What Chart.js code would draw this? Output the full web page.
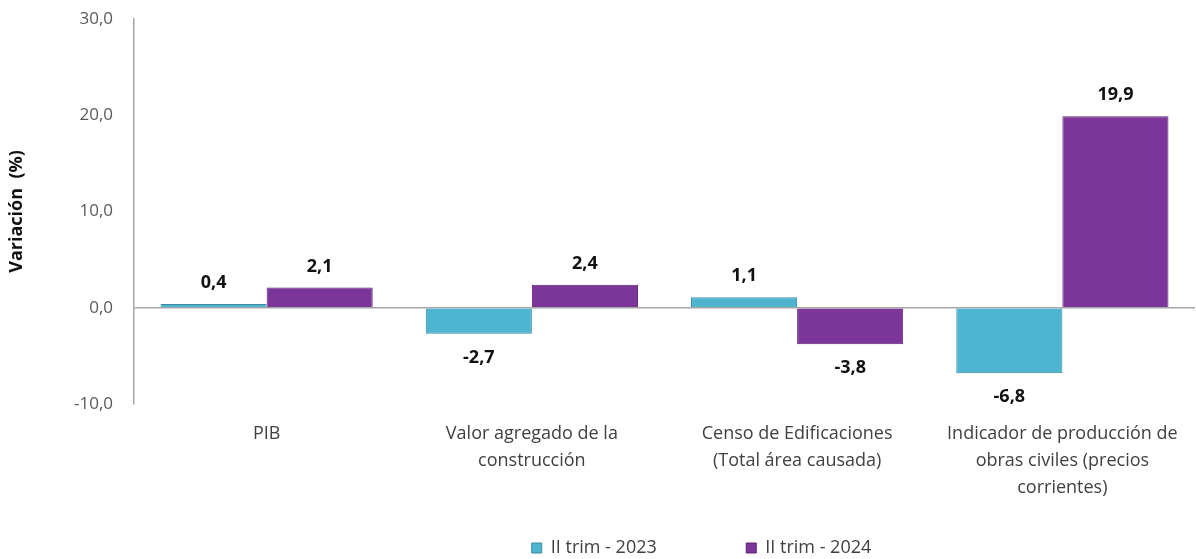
<!DOCTYPE html>
<html>
<head>
<meta charset="utf-8">
<script src="https://cdn.jsdelivr.net/npm/chart.js@4/dist/chart.umd.min.js"></script>
<style>
  html, body { margin: 0; padding: 0; background: #ffffff; }
  #wrap { width: 1196px; height: 559px; }
</style>
</head>
<body>
<div id="wrap"><canvas id="myChart" width="1196" height="559"></canvas></div>
<script>
// categories (multi-line labels) and the two series
const categories = [
  ['PIB'],
  ['Valor agregado de la', 'construcción'],
  ['Censo de Edificaciones', '(Total área causada)'],
  ['Indicador de producción de', 'obras civiles (precios', 'corrientes)']
];
const serie2023 = [0.4, -2.7, 1.1, -6.8];
const serie2024 = [2.1, 2.4, -3.8, 19.9];
const seriesNames = ['II trim - 2023', 'II trim - 2024'];
const yTicks = [-10, 0, 10, 20, 30];

const FONT = '"Open Sans", "Noto Sans", sans-serif';

function fmt(v) {
  return v.toFixed(1).replace('.', ',');
}

// value labels above / below each bar
const valueLabels = {
  id: 'valueLabels',
  afterDatasetsDraw(chart) {
    const ctx = chart.ctx;
    ctx.save();
    ctx.font = 'bold 18px ' + FONT;
    ctx.fillStyle = '#111111';
    ctx.textAlign = 'center';
    ctx.textBaseline = 'middle';
    chart.data.datasets.forEach((ds, di) => {
      chart.getDatasetMeta(di).data.forEach((bar, i) => {
        const v = ds.data[i];
        const y = v >= 0 ? bar.y - 21 : bar.y + 24;
        ctx.fillText(fmt(v), bar.x, y);
      });
    });
    ctx.restore();
  }
};

// move the legend to where it sits in the original
const legendShift = {
  id: 'legendShift',
  afterLayout(chart) {
    const lg = chart.legend;
    lg.left += 104;
    lg.right += 104;
  }
};

const options = {
  type: 'bar',
  data: {
    labels: categories,
    datasets: [
      {
        label: seriesNames[0] + '                 ',
        data: serie2023,
        backgroundColor: '#4db5cf',
        borderColor: '#3a8aa0',
        borderWidth: 1
      },
      {
        label: seriesNames[1],
        data: serie2024,
        backgroundColor: '#7c3699',
        borderColor: '#5a2272',
        borderWidth: 1
      }
    ]
  },
  options: {
    responsive: false,
    animation: false,
    layout: { padding: { top: 19, left: 0, right: 1, bottom: -8 } },
    datasets: {
      bar: { categoryPercentage: 0.8, barPercentage: 1.0 }
    },
    scales: {
      x: {
        grid: { display: false, drawTicks: false },
        border: { display: false },
        ticks: {
          color: '#404040',
          font: { family: FONT, size: 18, lineHeight: 1.5 },
          padding: 16,
          maxRotation: 0,
          autoSkip: false
        },
        afterFit(scale) { scale.height = 125; }
      },
      y: {
        min: -10,
        max: 30,
        afterBuildTicks(scale) {
          scale.ticks = yTicks.map(v => ({ value: v }));
        },
        grid: {
          drawTicks: false,
          color: ctx => (ctx.tick && ctx.tick.value === 0 ? '#a6a6a6' : 'rgba(0,0,0,0)'),
          lineWidth: 1.5
        },
        border: { display: true, color: '#a6a6a6', width: 1.5 },
        ticks: {
          color: '#595959',
          font: { family: FONT, size: 17 },
          padding: 21,
          callback: v => fmt(v)
        },
        title: {
          display: true,
          text: 'Variación  (%)',
          color: '#111111',
          font: { family: FONT, size: 18, weight: 'bold' },
          padding: { top: 6, bottom: 0 }
        },
        afterFit(scale) {
          scale.width = 134;
          scale.paddingTop = 0;
          scale.paddingBottom = 0;
        }
      }
    },
    plugins: {
      legend: {
        position: 'bottom',
        labels: {
          color: '#404040',
          font: { family: FONT, size: 18 },
          boxWidth: 10,
          boxHeight: 10,
          padding: 10
        }
      },
      tooltip: { enabled: false }
    }
  },
  plugins: [valueLabels, legendShift]
};

const mChart = new Chart(document.getElementById('myChart'), options);
</script>
</body>
</html>
